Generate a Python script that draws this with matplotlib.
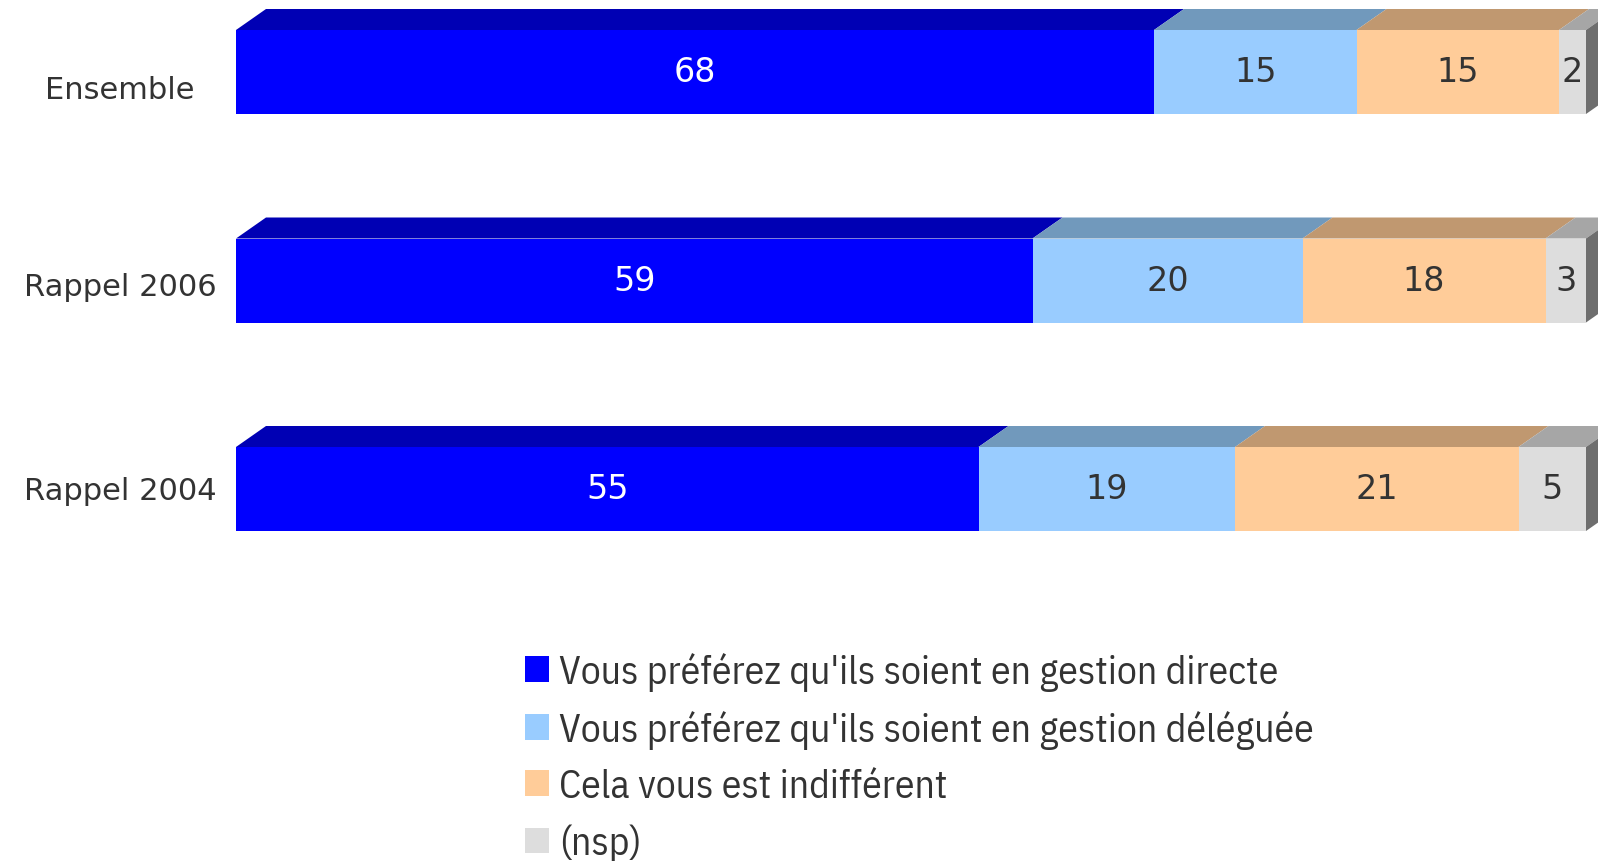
import matplotlib
matplotlib.use('Agg')
import matplotlib.pyplot as plt
from matplotlib.patches import Polygon, Patch
from matplotlib import font_manager
import numpy as np

categories = ['Ensemble', 'Rappel 2006', 'Rappel 2004']
directe = [68, 59, 55]
deleguee = [15, 20, 19]
indifferent = [15, 18, 21]
nsp = [2, 3, 5]

series_names = ["Vous préférez qu'ils soient en gestion directe",
                "Vous préférez qu'ils soient en gestion déléguée",
                "Cela vous est indifférent",
                "(nsp)"]
colors = ['#0000FF', '#99CCFF', '#FFCC99', '#DDDDDD']
top_colors = ['#0000B4', '#7199BC', '#C09870', '#A6A6A6']
side_color = '#6E6E6E'
text_colors = ['white', '#333333', '#333333', '#333333']

W, H = 1598, 862
PX = 13.5          # pixels per percent
X0 = 236           # pixel of 0 %
ROW = 208.5        # pixels between rows
Y0 = 73            # pixel centre of first row
BAR_H = 84 / ROW
DX = 30 / PX
DY = 21 / ROW

# narrow font for the legend, whatever is available
available = {f.name for f in font_manager.fontManager.ttflist}
narrow = [n for n in ['Liberation Sans Narrow', 'IBM Plex Sans Condensed', 'Roboto Condensed',
                      'Open Sans Condensed'] if n in available]

fig = plt.figure(figsize=(W / 100, H / 100), dpi=100)
ax = fig.add_axes([0, 0, 1, 1])
ax.set_xlim(-X0 / PX, (W - X0) / PX)
ax.set_ylim((H - Y0) / ROW, -Y0 / ROW)
ax.axis('off')

data = np.array([directe, deleguee, indifferent, nsp], dtype=float)
ypos = np.arange(len(categories))
lefts = np.zeros(len(categories))

for k in range(len(data)):
    vals = data[k]
    bars = ax.barh(ypos, vals, left=lefts, height=BAR_H, color=colors[k], zorder=2)
    for b, v in zip(bars, vals):
        l = b.get_x()
        r = l + b.get_width()
        top = b.get_y()
        ax.add_patch(Polygon([(l, top), (l + DX, top - DY), (r + DX, top - DY), (r, top)],
                             closed=True, facecolor=top_colors[k], edgecolor='none', zorder=1))
        ax.text((l + r) / 2, b.get_y() + b.get_height() / 2, f'{int(v)}',
                ha='center', va='center', fontsize=24, color=text_colors[k],
                family='DejaVu Sans', zorder=3)
    lefts = lefts + vals

# right side face of the stack
for y, R in zip(ypos, lefts):
    top = y - BAR_H / 2
    bot = y + BAR_H / 2
    ax.add_patch(Polygon([(R, top), (R + DX, top - DY), (R + DX, bot - DY), (R, bot)],
                         closed=True, facecolor=side_color, edgecolor='none', zorder=1))

label_shift = [18, 6, 2]   # pixels, labels sit a little below the bar centre
for y, cat, s in zip(ypos, categories, label_shift):
    ax.text((120 - X0) / PX, y + s / ROW, cat, ha='center', va='center',
            fontsize=22, color='#333333', family='DejaVu Sans')

handles = [Patch(facecolor=c, edgecolor='none') for c in colors]
leg_family = narrow[:1] + ['DejaVu Sans']
leg = fig.legend(handles, series_names, loc='upper left',
                 bbox_to_anchor=(525 / W, 1 - 653 / H), frameon=False,
                 prop={'family': leg_family, 'size': 28.5, 'stretch': 'condensed'},
                 handlelength=0.61, handleheight=0.61, handletextpad=0.26,
                 labelspacing=0.48, borderpad=0, borderaxespad=0)
for t in leg.get_texts():
    t.set_color('#333333')

fig.savefig('out.png', dpi=100)
